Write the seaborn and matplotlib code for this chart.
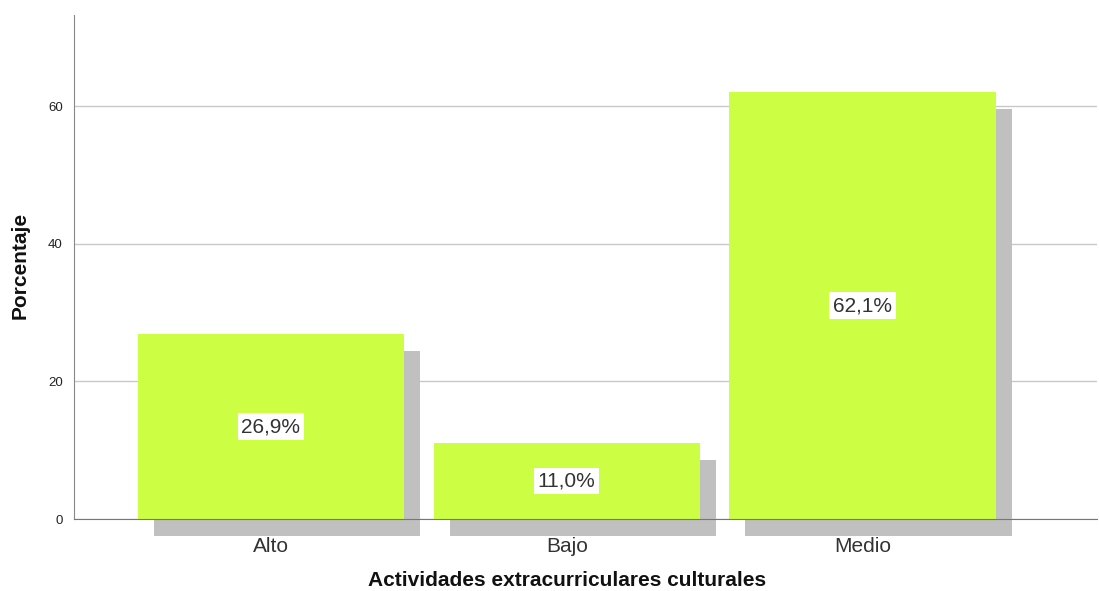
import pandas as pd
import numpy as np
import matplotlib
matplotlib.use('Agg')
import matplotlib.pyplot as plt
import matplotlib.patheffects as pe
import seaborn as sns

# datos
categorias = ['Alto', 'Bajo', 'Medio']
porcentajes = [26.9, 11.0, 62.1]
etiquetas = ['26,9%', '11,0%', '62,1%']

sns.set_style('white')
plt.rcParams['font.family'] = ['Liberation Sans', 'DejaVu Sans']

df = pd.DataFrame({'cat': categorias, 'pct': porcentajes})

fig = plt.figure(figsize=(10.99, 5.91), dpi=100)
ax = fig.add_axes([74 / 1099, 72 / 591, 1023 / 1099, 504 / 591])

sns.barplot(data=df, x='cat', y='pct', color='#CCFF44', saturation=1,
            width=0.9, ax=ax, zorder=3)

# sombra gris desplazada
for p in ax.patches:
    p.set_linewidth(0)
    p.set_clip_on(False)
    p.set_path_effects([
        pe.SimplePatchShadow(offset=(11.5, -12), shadow_rgbFace='#C0C0C0', alpha=1.0),
        pe.Normal(),
    ])

# etiquetas dentro de las barras
for i, (v, t) in enumerate(zip(porcentajes, etiquetas)):
    ax.text(i, v / 2, t, ha='center', va='center', fontsize=15, color='#333333',
            zorder=5, bbox=dict(boxstyle='square,pad=0.18', fc='white', ec='none'))

ax.set_xlim(-0.666, 2.793)
ax.set_ylim(0, 73.3)
ax.set_yticks([0, 20, 40, 60])
ax.yaxis.grid(True, color='#C8C8C8', linewidth=1)
ax.set_axisbelow(True)

for s in ['top', 'right']:
    ax.spines[s].set_visible(False)
ax.spines['left'].set_color('#888888')
ax.spines['bottom'].set_color('#777777')
ax.spines['left'].set_zorder(6)
ax.spines['bottom'].set_zorder(6)

ax.tick_params(axis='y', labelsize=9.5, length=0, pad=8, labelcolor='#222222')
ax.tick_params(axis='x', labelsize=15, length=0, pad=13, labelcolor='#333333')

ax.set_xlabel('Actividades extracurriculares culturales', fontsize=15,
              fontweight='bold', color='#111111', va='center')
ax.set_ylabel('Porcentaje', fontsize=15, fontweight='bold', color='#111111', va='center')
ax.xaxis.set_label_coords((567 - 74) / 1023, -(580 - 519) / 504)
ax.yaxis.set_label_coords(-(74 - 20) / 1023, (519 - 265) / 504)

plt.savefig('out.png', dpi=100, facecolor='white')
plt.close()
